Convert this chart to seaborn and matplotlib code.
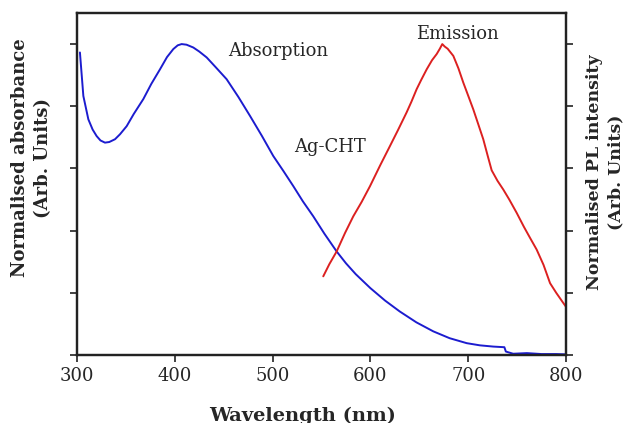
import matplotlib
matplotlib.use("Agg")
import matplotlib.pyplot as plt
import seaborn as sns
import pandas as pd

# Absorption spectrum of Ag-CHT (normalised)
abs_wavelength = [303, 306.5, 311.6, 316, 320.1, 324, 328.6, 333, 338.9, 344, 350.8, 358, 367.8,
                  376, 384.9, 392, 398.5, 403, 407, 412, 418.9, 425, 432.6, 442, 453, 465,
                  476.9, 489, 500.7, 511, 521.2, 531, 541.6, 553, 565.5, 575, 585, 600, 615,
                  630, 647, 664.3, 681, 698.5, 712, 725.7, 737, 738.5, 746, 760, 775, 790, 800]
abs_values = [0.973, 0.833, 0.758, 0.725, 0.704, 0.690, 0.683, 0.685, 0.694, 0.710, 0.736, 0.775, 0.823,
              0.872, 0.919, 0.958, 0.984, 0.996, 1.000, 0.998, 0.989, 0.976, 0.957, 0.925, 0.887, 0.830,
              0.769, 0.705, 0.640, 0.592, 0.543, 0.494, 0.446, 0.390, 0.333, 0.295, 0.260, 0.215, 0.175,
              0.140, 0.105, 0.076, 0.054, 0.038, 0.031, 0.027, 0.025, 0.011, 0.004, 0.006, 0.003, 0.003, 0.002]

# Photoluminescence emission spectrum (normalised)
em_wavelength = [551.8, 558, 565.5, 574, 582.5, 591, 599.6, 610, 620, 628, 637, 642, 647.3,
                 652, 657.6, 663, 667.8, 671, 673.5, 676, 679, 684.8, 690, 695, 700, 705.2,
                 710, 715.4, 720, 724, 730, 735.9, 742, 749.6, 757, 763, 770, 777, 783.7,
                 790, 797.3, 800]
em_values = [0.253, 0.292, 0.333, 0.392, 0.446, 0.492, 0.543, 0.610, 0.672, 0.722, 0.780, 0.815, 0.855,
             0.885, 0.919, 0.948, 0.968, 0.985, 1.000, 0.992, 0.985, 0.962, 0.922, 0.876, 0.834, 0.790,
             0.745, 0.694, 0.640, 0.594, 0.560, 0.532, 0.500, 0.457, 0.412, 0.378, 0.339, 0.290, 0.231,
             0.200, 0.167, 0.155]

x_ticks = [300, 400, 500, 600, 700, 800]
y_ticks = [0.0, 0.2, 0.4, 0.6, 0.8, 1.0]

abs_df = pd.DataFrame({"wavelength": abs_wavelength, "value": abs_values})
em_df = pd.DataFrame({"wavelength": em_wavelength, "value": em_values})

sns.set_style("ticks")
plt.rcParams["font.family"] = ["DejaVu Serif"]

fig = plt.figure(figsize=(6.27, 4.23), dpi=100)
ax = fig.add_axes([0.1228, 0.1608, 0.7799, 0.8085])
ax2 = ax.twinx()

sns.lineplot(data=abs_df, x="wavelength", y="value", ax=ax, color="#1c1ccf", lw=1.4,
             estimator=None, sort=False)
sns.lineplot(data=em_df, x="wavelength", y="value", ax=ax2, color="#dc2020", lw=1.4,
             estimator=None, sort=False)

for a in (ax, ax2):
    a.set_xlim(300, 800)
    a.set_ylim(0, 1.1)
    a.set_yticks(y_ticks)
    a.set_yticklabels([])
    for s in a.spines.values():
        s.set_linewidth(1.6)
        s.set_color("#222222")
    a.tick_params(direction="out", length=5, width=1.2, color="#222222")

ax.set_xticks(x_ticks)
ax.set_xticklabels([str(t) for t in x_ticks], fontsize=13)
ax.tick_params(axis="x", pad=4)

ax.set_xlabel("Wavelength (nm)", fontsize=14, fontweight="bold")
ax.xaxis.set_label_coords(0.462, -0.15)
ax.set_ylabel("Normalised absorbance\n(Arb. Units)", fontsize=13, fontweight="bold", linespacing=1.4)
ax.yaxis.set_label_coords(-0.05, 0.576)
ax2.set_ylabel("Normalised PL intensity\n(Arb. Units)", fontsize=12.5, fontweight="bold", linespacing=1.3,
               rotation=90)
ax2.yaxis.set_label_coords(1.041, 0.535)
ax2.yaxis.label.set_verticalalignment("top")

ax.text(505.5, 0.977, "Absorption", fontsize=13, ha="center", va="center")
ax.text(688.5, 1.032, "Emission", fontsize=13, ha="center", va="center")
ax.text(558.7, 0.668, "Ag-CHT", fontsize=13, ha="center", va="center")

fig.savefig("out.png", dpi=100)
